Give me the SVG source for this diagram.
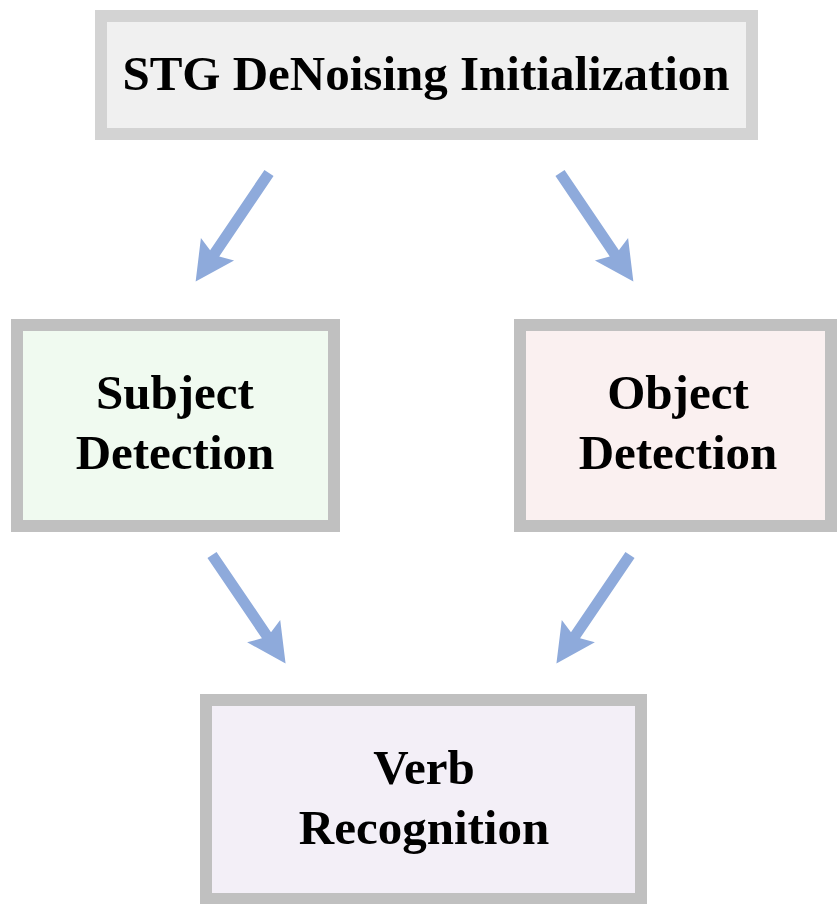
<svg xmlns="http://www.w3.org/2000/svg" xmlns:xlink="http://www.w3.org/1999/xlink" width="838" height="904" viewBox="0 0 838 904">
  <style>
    .box { stroke-width: 12; }
    .lbl { font-family: "Liberation Serif", "Times New Roman", serif; font-weight: bold; font-size: 49px; fill: #000; text-anchor: middle; }
    .arrow { fill: #8eaadb; }
  </style>
  <defs>
    <path id="arr" class="arrow" d="M0,-5.5 L97,-5.5 L92,-20 L131,0 L92,20 L97,5.5 L0,5.5 Z"/>
  </defs>
  <rect width="838" height="904" fill="#ffffff"/>
  <g id="connectors">
    <use xlink:href="#arr" href="#arr" transform="translate(269,173) rotate(124.05)"/>
    <use xlink:href="#arr" href="#arr" transform="translate(560,173) rotate(55.95)"/>
    <use xlink:href="#arr" href="#arr" transform="translate(212,555) rotate(55.83)"/>
    <use xlink:href="#arr" href="#arr" transform="translate(630,555) rotate(124.17)"/>
  </g>
  <g id="node-init">
    <rect class="box" x="101" y="16" width="651" height="118" fill="#f0f0f0" stroke="#d3d3d3"/>
    <text class="lbl" x="426" y="90">STG DeNoising Initialization</text>
  </g>
  <g id="node-subject">
    <rect class="box" x="17" y="325" width="317" height="201" fill="#f0faf0" stroke="#c0c0c0"/>
    <text class="lbl" x="175" y="409">Subject</text>
    <text class="lbl" x="175" y="469">Detection</text>
  </g>
  <g id="node-object">
    <rect class="box" x="520" y="325" width="311" height="201" fill="#faf0f0" stroke="#c0c0c0"/>
    <text class="lbl" x="678" y="409">Object</text>
    <text class="lbl" x="678" y="469">Detection</text>
  </g>
  <g id="node-verb">
    <rect class="box" x="206" y="700" width="435" height="199" fill="#f3eff7" stroke="#c0c0c0"/>
    <text class="lbl" x="424" y="784">Verb</text>
    <text class="lbl" x="424" y="844">Recognition</text>
  </g>
</svg>
